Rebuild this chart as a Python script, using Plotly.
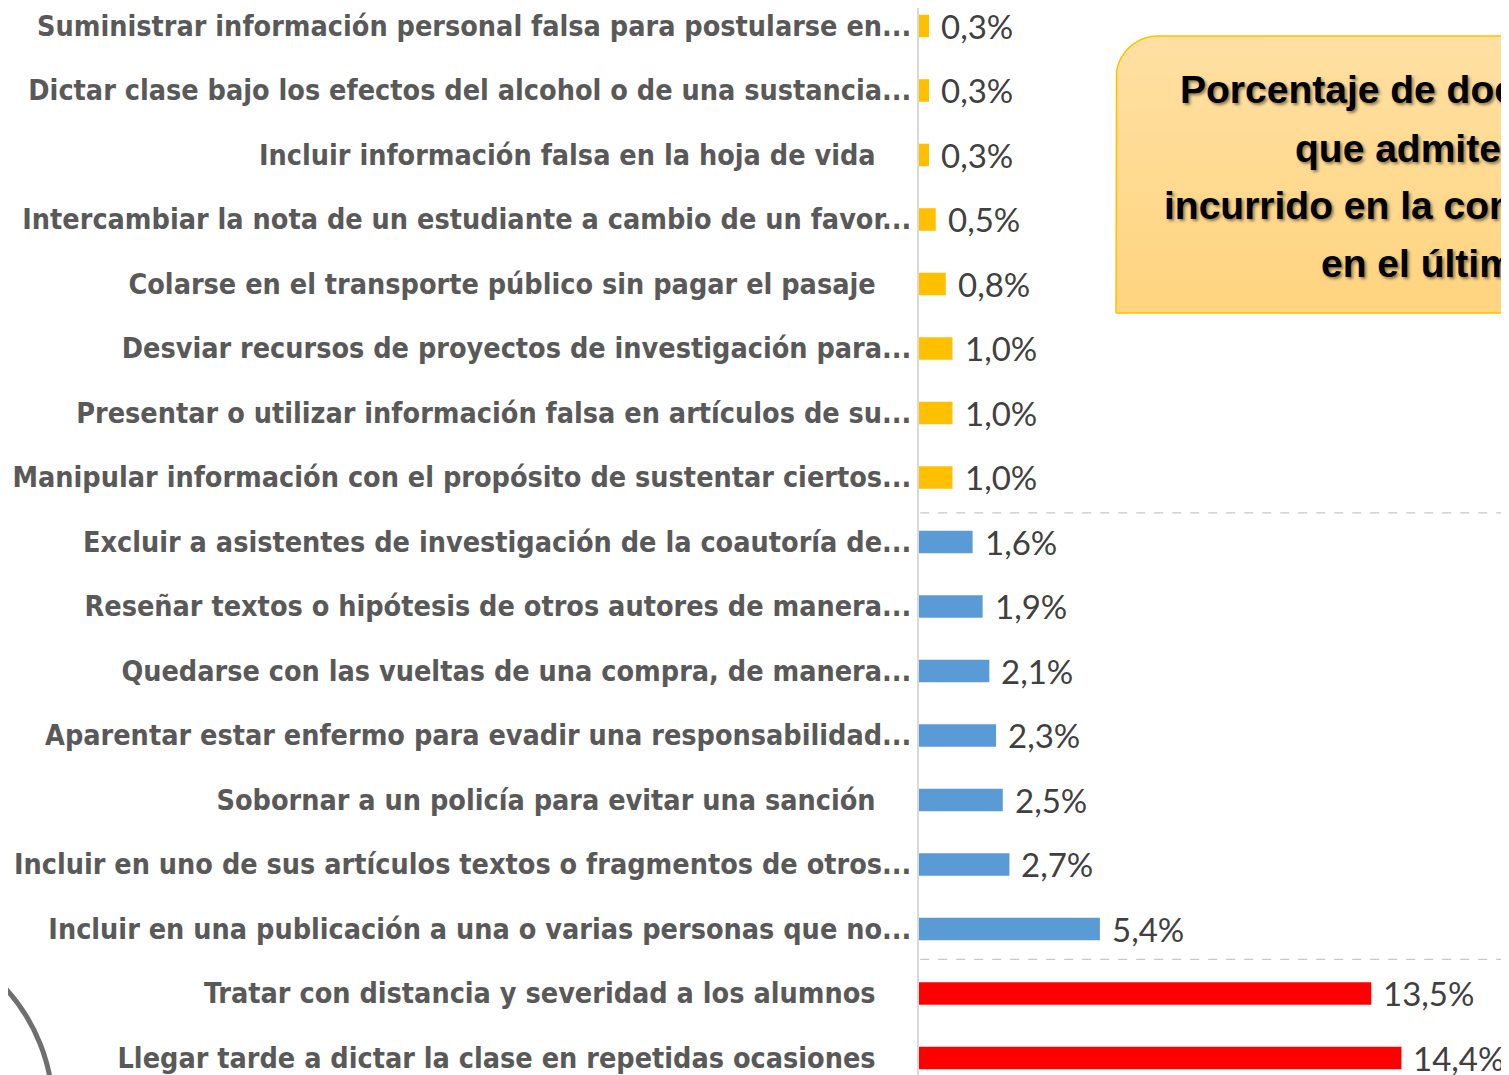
import numpy as np
import plotly.graph_objects as go

# categories top to bottom
categorias = [
    "Suministrar información personal falsa para postularse en...",
    "Dictar clase bajo los efectos del alcohol o de una sustancia...",
    "Incluir información falsa en la hoja de vida",
    "Intercambiar la nota de un estudiante a cambio de un favor...",
    "Colarse en el transporte público sin pagar el pasaje",
    "Desviar recursos de proyectos de investigación para...",
    "Presentar o utilizar información falsa en artículos de su...",
    "Manipular información con el propósito de sustentar ciertos...",
    "Excluir a asistentes de investigación de la coautoría de...",
    "Reseñar textos o hipótesis de otros autores de manera...",
    "Quedarse con las vueltas de una compra, de manera...",
    "Aparentar estar enfermo para evadir una responsabilidad...",
    "Sobornar a un policía para evitar una sanción",
    "Incluir en uno de sus artículos textos o fragmentos de otros...",
    "Incluir en una publicación a una o varias personas que no...",
    "Tratar con distancia y severidad a los alumnos",
    "Llegar tarde a dictar la clase en repetidas ocasiones",
]
porcentajes = [0.3, 0.3, 0.3, 0.5, 0.8, 1.0, 1.0, 1.0,
               1.6, 1.9, 2.1, 2.3, 2.5, 2.7, 5.4,
               13.5, 14.4]
grupo = ["bajo"] * 8 + ["medio"] * 7 + ["alto"] * 2
colores_grupo = {"bajo": "#FFC000", "medio": "#5B9BD5", "alto": "#FF0000"}

titulo_lineas = ["Porcentaje de docentes", "que admite haber",
                 "incurrido en la conducta", "en el último año"]

# the page body adds an 8px margin: positions below are page pixels minus 8
W, H = 1509, 1075
label_font = "DejaVu Sans Condensed, Liberation Sans Narrow, sans-serif"
value_font = "Lato, Open Sans, sans-serif"

# non truncated labels sit a bit further from the axis (as in Excel)
ticktext = [c if c.endswith("...") else c + "\u00a0" * 4 for c in categorias]

fig = go.Figure()
fig.add_trace(go.Bar(
    x=porcentajes, y=categorias, orientation="h",
    marker=dict(color=[colores_grupo[g] for g in grupo], line=dict(width=0)),
    width=0.35, hoverinfo="x+y", showlegend=False,
))

# title box with vertical gradient, drawn on a hidden full-page subplot
r = 42
bl, bt, bb = 1108, 28, 305
ang = np.linspace(np.pi, 1.5 * np.pi, 20)
bx = [bl, bl] + list(bl + r + r * np.cos(ang)) + [1650, 1650, bl]
by = [bb, bt + r] + list(bt + r + r * np.sin(ang)) + [bt, bb, bb]
fig.add_trace(go.Scatter(
    x=bx, y=by, xaxis="x2", yaxis="y2", mode="lines", fill="toself",
    line=dict(color="#FFC000", width=1.5),
    fillgradient=dict(type="vertical",
                      colorscale=[[0, "#FFD47F"], [1, "#FFE0A3"]]),
    hoverinfo="skip", showlegend=False,
))

annotations = []
for c, v in zip(categorias, porcentajes):
    annotations.append(dict(
        x=v, y=c, xref="x", yref="y", xanchor="left", yanchor="middle",
        xshift=10, showarrow=False,
        text=f"{v:.1f}".replace(".", ",") + "%",
        font=dict(family=value_font, size=33, color="#404040"),
    ))

inicio_x = [1170, 1285, 1154, 1311]
centro_y = [82, 140, 198, 255]
for t, px, py in zip(titulo_lineas, inicio_x, centro_y):
    annotations.append(dict(
        x=px / W, y=1 - py / H, xref="paper", yref="paper",
        xanchor="left", yanchor="middle", showarrow=False, text=t,
        font=dict(family="Liberation Sans, Arial, sans-serif", size=39,
                  color="#000000", weight="bold",
                  shadow="2px 2px 3px rgba(0,0,0,0.45)"),
    ))

shapes = [
    dict(type="line", xref="x domain", yref="y", x0=0.002, x1=1, y0=7.55, y1=7.55,
         line=dict(color="#C8C8C8", width=1.2, dash="dash")),
    dict(type="line", xref="x domain", yref="y", x0=0.002, x1=1, y0=14.47, y1=14.47,
         line=dict(color="#C8C8C8", width=1.2, dash="dash")),
    # partial logo circle in the lower left corner
    dict(type="circle", xref="paper", yref="paper",
         x0=(-137 - 182) / W, x1=(-137 + 182) / W,
         y0=1 - (1103 + 182) / H, y1=1 - (1103 - 182) / H,
         line=dict(color="#6F6F6F", width=5)),
]

fig.update_layout(
    width=W, height=H, autosize=False,
    margin=dict(l=0, r=0, t=0, b=0, pad=0),
    paper_bgcolor="white", plot_bgcolor="rgba(0,0,0,0)",
    xaxis=dict(domain=[911 / W, 1], range=[0, 17.85], visible=False,
               automargin=False),
    yaxis=dict(range=[16.388, -0.279], tickmode="array",
               tickvals=categorias, ticktext=ticktext, automargin=False,
               showline=True, linecolor="#D9D9D9", linewidth=2,
               ticks="", showgrid=False, zeroline=False,
               tickfont=dict(family=label_font, size=28.5, color="#595959",
                             weight="bold")),
    xaxis2=dict(domain=[0, 1], range=[0, W], visible=False, anchor="y2",
                automargin=False),
    yaxis2=dict(domain=[0, 1], range=[H, 0], visible=False, anchor="x2",
                automargin=False),
    annotations=annotations,
    shapes=shapes,
    bargap=0.66,
)

fig.write_html("out.html")
